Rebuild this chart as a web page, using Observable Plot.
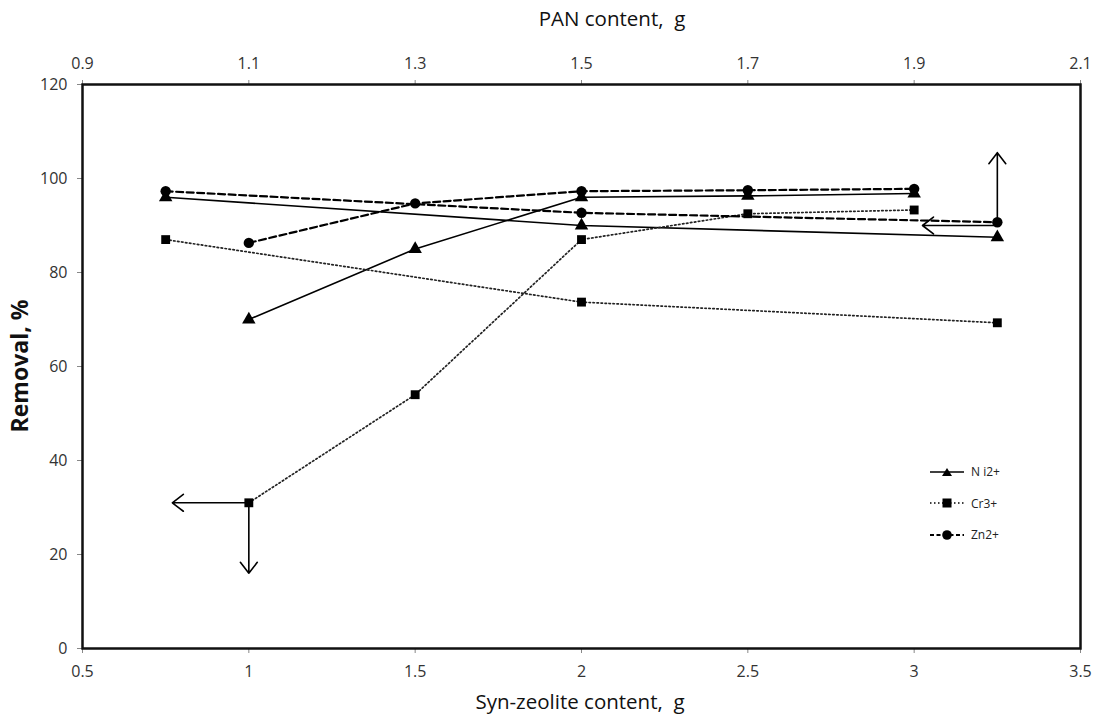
<!DOCTYPE html>
<html>
<head>
<meta charset="utf-8">
<script src="https://cdn.jsdelivr.net/npm/d3@7"></script>
<script src="https://cdn.jsdelivr.net/npm/@observablehq/plot@0.6"></script>
<style>
  html, body { margin: 0; padding: 0; background: #fff; }
  #wrap { position: relative; width: 1099px; height: 721px; font-family: "Open Sans", "Liberation Sans", sans-serif; }
  #legend { position: absolute; left: 926px; top: 456px; font-size: 12px; color: #222; }
  #legend .row { display: flex; align-items: center; height: 31.5px; }
  #legend svg { display: block; margin-right: 3px; }
</style>
</head>
<body>
<div id="wrap"></div>
<script>
// ---- Data ----
const synX = [1, 1.5, 2, 2.5, 3];            // Syn-zeolite content, g (bottom axis)
const niSyn = [70, 85, 96, 96.3, 96.8];
const crSyn = [31, 54, 87, 92.5, 93.3];
const znSyn = [86.3, 94.7, 97.3, 97.5, 97.8];

const panX = [1.0, 1.5, 2.0];                 // PAN content, g (top axis)
const niPan = [96, 90, 87.5];
const crPan = [87, 73.7, 69.3];
const znPan = [97.3, 92.7, 90.7];

const bottomTicks = [0.5, 1, 1.5, 2, 2.5, 3, 3.5];
const panTicks = [0.9, 1.1, 1.3, 1.5, 1.7, 1.9, 2.1];
const yTicks = [0, 20, 40, 60, 80, 100, 120];

const seriesNames = ["N i2+", "Cr3+", "Zn2+"];
const titles = {bottom: "Syn-zeolite content,  g", top: "PAN content,  g", left: "Removal, %"};

// annotation arrows: [x1, y1, x2, y2]
const arrowsSyn = [
  [1, 31, 0.77, 31],
  [1, 31, 1, 16]
];
const arrowsPan = [
  [2.0, 90.7, 2.0, 105.5],
  [2.0, 90.0, 1.91, 90.0]
];

// ---- map PAN axis onto the bottom scale (0.9..2.1 -> 0.5..3.5) ----
const panToB = p => 0.5 + (p - 0.9) * 2.5;
const bToPan = b => 0.9 + (b - 0.5) / 2.5;

function rows(xs, ys, name, conv) {
  return xs.map((x, i) => ({x: conv ? conv(x) : x, y: ys[i], s: name}));
}
const niA = rows(synX, niSyn, "Ni"), crA = rows(synX, crSyn, "Cr"), znA = rows(synX, znSyn, "Zn");
const niB = rows(panX, niPan, "Ni", panToB), crB = rows(panX, crPan, "Cr", panToB), znB = rows(panX, znPan, "Zn", panToB);

const arrows = [
  ...arrowsSyn.map(a => ({x1: a[0], y1: a[1], x2: a[2], y2: a[3]})),
  ...arrowsPan.map(a => ({x1: panToB(a[0]), y1: a[1], x2: panToB(a[2]), y2: a[3]}))
];

const styles = {
  Ni: {stroke: "#000", strokeWidth: 1.6},
  Cr: {stroke: "#222", strokeWidth: 1.7, strokeDasharray: "1.5,2.5"},
  Zn: {stroke: "#000", strokeWidth: 2.2, strokeDasharray: "7,3.5"}
};
const symbols = {Ni: "triangle", Cr: "square", Zn: "circle"};
const radius = {Ni: 5, Cr: 5, Zn: 5.2};

const marks = [];
for (const [d, k] of [[niA,"Ni"],[niB,"Ni"],[crA,"Cr"],[crB,"Cr"],[znA,"Zn"],[znB,"Zn"]]) {
  marks.push(Plot.line(d, {x: "x", y: "y", ...styles[k]}));
}
marks.push(Plot.arrow(arrows, {x1: "x1", y1: "y1", x2: "x2", y2: "y2", stroke: "#000", strokeWidth: 1.6, headLength: 13, headAngle: 75}));
for (const [d, k] of [[niA,"Ni"],[niB,"Ni"],[crA,"Cr"],[crB,"Cr"],[znA,"Zn"],[znB,"Zn"]]) {
  marks.push(Plot.dot(d, {x: "x", y: "y", symbol: () => symbols[k], r: radius[k], fill: "#000", stroke: "none"}));
}

const chart = Plot.plot({
  width: 1099,
  height: 721,
  marginLeft: 82,
  marginRight: 19,
  marginTop: 84,
  marginBottom: 73,
  style: {fontFamily: "'Open Sans', 'Liberation Sans', sans-serif", fontSize: "16px", color: "#333", background: "#fff"},
  symbol: {type: "identity"},
  x: {domain: [0.5, 3.5], axis: null},
  y: {domain: [0, 120], axis: null},
  marks: [
    Plot.axisX({anchor: "bottom", ticks: bottomTicks, tickSize: 5, tickPadding: 12, tickFormat: d => String(d),
      label: null, fontSize: 16, stroke: "#888"}),
    Plot.axisX({anchor: "top", ticks: panTicks.map(panToB), tickSize: 5, tickPadding: 11, tickFormat: d => bToPan(d).toFixed(1),
      label: null, fontSize: 16, stroke: "#888"}),
    Plot.axisY({anchor: "left", ticks: yTicks, tickSize: 5, tickPadding: 10, label: null, fontSize: 16, stroke: "#888"}),
    Plot.frame({stroke: "#111", strokeWidth: 2.5}),
    ...marks
  ]
});
document.getElementById("wrap").appendChild(chart);

chart.querySelectorAll("g[aria-label$='tick label'] text").forEach(t => {
  t.style.fontSize = "16px"; t.setAttribute("fill", "#333");
});

function addText(str, transform, size, weight) {
  const t = document.createElementNS("http://www.w3.org/2000/svg", "text");
  t.setAttribute("transform", transform);
  t.setAttribute("text-anchor", "middle");
  t.setAttribute("dominant-baseline", "middle");
  t.style.fontSize = size + "px";
  if (weight) t.setAttribute("font-weight", weight);
  t.setAttribute("fill", "#111");
  t.textContent = str;
  chart.appendChild(t);
}
addText(titles.top, "translate(612,21)", 20.5);
addText(titles.bottom, "translate(580,704)", 20.5);
addText(titles.left, "translate(22,366) rotate(-90)", 23, "bold");

// legend
const legend = document.createElement("div");
legend.id = "legend";
const legendKeys = ["Ni", "Cr", "Zn"];
legendKeys.forEach((k, i) => {
  const row = document.createElement("div");
  row.className = "row";
  const s = styles[k];
  const sym = k === "Ni" ? '<path d="M21,4 L26,12 L16,12 Z" fill="#000"/>'
            : k === "Cr" ? '<rect x="16.5" y="3.5" width="9" height="9" fill="#000"/>'
            : '<circle cx="21" cy="8" r="4.8" fill="#000"/>';
  row.innerHTML = `<svg width="42" height="16"><line x1="4" y1="8" x2="38" y2="8" stroke="#000" stroke-width="${s.strokeWidth}" ${s.strokeDasharray ? `stroke-dasharray="${k==='Zn' ? '4,2.5' : '1.5,2.5'}"` : ""}/>${sym}</svg><span>${seriesNames[i]}</span>`;
  legend.appendChild(row);
});
document.getElementById("wrap").appendChild(legend);
</script>
</body>
</html>
